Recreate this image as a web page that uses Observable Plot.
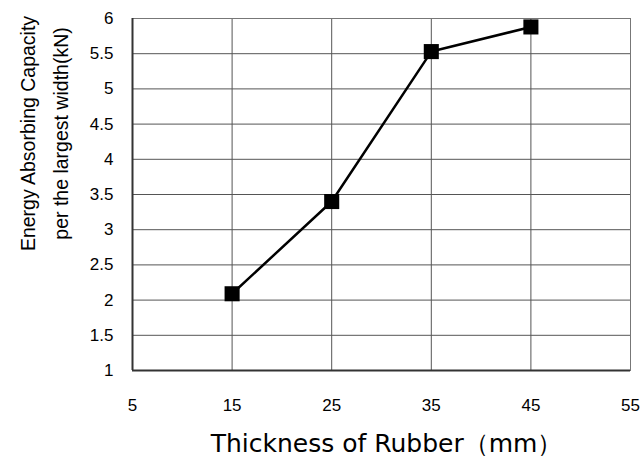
<!DOCTYPE html>
<html><head><meta charset="utf-8">
<script src="https://cdn.jsdelivr.net/npm/d3@7"></script>
<script src="https://cdn.jsdelivr.net/npm/@observablehq/plot@0.6"></script>
<style>body{margin:0;background:#fff}</style>
</head><body><div id="chart"></div>
<script>
const thickness = [15, 25, 35, 45];
const capacity = [2.09, 3.4, 5.53, 5.88];
const xTicks = [5, 15, 25, 35, 45, 55];
const yTicks = [1, 1.5, 2, 2.5, 3, 3.5, 4, 4.5, 5, 5.5, 6];
const xTitle = "Thickness of Rubber（mm）";
const yTitle1 = "Energy Absorbing Capacity";
const yTitle2 = "per the largest width(kN)";

const data = thickness.map((t, i) => ({t, v: capacity[i]}));
const font = "'Liberation Sans', Arial, 'Noto Sans CJK JP', sans-serif";
const titleFont = "'DejaVu Sans', 'Liberation Sans', sans-serif";

const plot = Plot.plot({
  width: 641, height: 456,
  marginLeft: 132, marginTop: 18, marginRight: 11, marginBottom: 86,
  style: {fontFamily: font, fontSize: "17px", background: "#fff", color: "#000"},
  x: {domain: [5, 55]},
  y: {domain: [1, 6]},
  marks: [
    Plot.gridX(xTicks, {stroke: "#555", strokeOpacity: 1}),
    Plot.gridY(yTicks, {stroke: "#555", strokeOpacity: 1}),
    Plot.frame({stroke: "#777"}),
    Plot.ruleX([5], {stroke: "#333", strokeWidth: 2}),
    Plot.ruleY([1], {stroke: "#333", strokeWidth: 2}),
    Plot.axisX(xTicks, {tickSize: 0, tickPadding: 28, label: null, fontSize: 17, tickFormat: d => String(d)}),
    Plot.axisY(yTicks, {tickSize: 0, tickPadding: 19, label: null, fontSize: 17, tickFormat: d => String(d)}),
    Plot.line(data, {x: "t", y: "v", stroke: "#000", strokeWidth: 2.5}),
    Plot.dot(data, {x: "t", y: "v", symbol: "square", r: 8.5, fill: "#000", stroke: null}),
    Plot.text([xTitle], {frameAnchor: "bottom", dx: 5, dy: 73, text: d => d, fontSize: 25, fontFamily: titleFont, lineAnchor: "middle", textAnchor: "middle", fill: "#000"}),
    Plot.text([yTitle1], {frameAnchor: "left", dx: -104, dy: -61, rotate: -90, text: d => d, fontSize: 19.5, lineAnchor: "middle", textAnchor: "middle", fill: "#000"}),
    Plot.text([yTitle2], {frameAnchor: "left", dx: -71, dy: -61, rotate: -90, text: d => d, fontSize: 19.5, lineAnchor: "middle", textAnchor: "middle", fill: "#000"})
  ]
});
document.getElementById("chart").appendChild(plot);
</script>
</body></html>
